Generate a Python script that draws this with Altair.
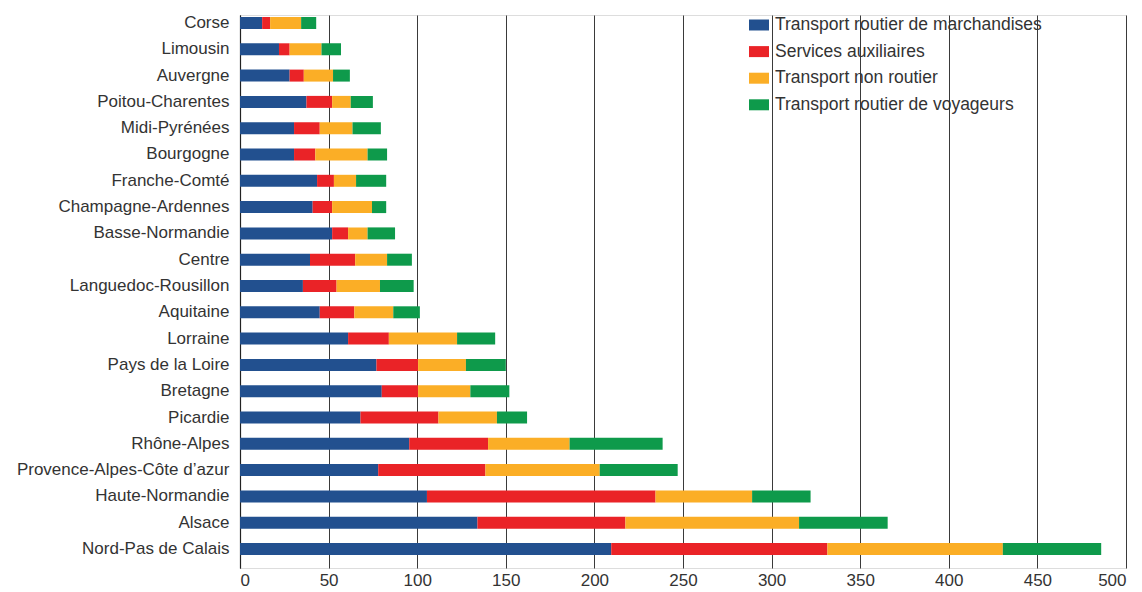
import altair as alt
import pandas as pd

regions = [
    "Corse", "Limousin", "Auvergne", "Poitou-Charentes", "Midi-Pyrénées",
    "Bourgogne", "Franche-Comté", "Champagne-Ardennes", "Basse-Normandie",
    "Centre", "Languedoc-Rousillon", "Aquitaine", "Lorraine",
    "Pays de la Loire", "Bretagne", "Picardie", "Rhône-Alpes",
    "Provence-Alpes-Côte d’azur", "Haute-Normandie", "Alsace",
    "Nord-Pas de Calais",
]

series = [
    "Transport routier de marchandises",
    "Services auxiliaires",
    "Transport non routier",
    "Transport routier de voyageurs",
]

marchandises = [12.5, 22, 28, 37.5, 30.5, 30.5, 43.5, 41, 52, 39.5, 35.5, 45,
                61, 77, 80, 68, 95.5, 78, 105.5, 134, 209.5]
auxiliaires = [4.5, 6, 8, 14.5, 14.5, 12, 9.5, 11, 9, 25.5, 19, 19.5,
               23, 23.5, 20.5, 44, 44.5, 60.5, 129, 83.5, 122]
non_routier = [17.5, 18, 16.5, 10.5, 18.5, 29.5, 12.5, 22.5, 11, 18, 24.5, 22,
               38.5, 27, 29.5, 33, 46, 64.5, 54.5, 98, 99]
voyageurs = [8.5, 11, 9.5, 12.5, 16, 11, 17, 8, 15.5, 14, 19, 15,
             21.5, 22.5, 22, 17, 52.5, 44, 33, 50, 55.5]

colors = ["#22508F", "#EA2327", "#FBAE26", "#0E9A4B"]

rows = []
for vals, name, k in zip([marchandises, auxiliaires, non_routier, voyageurs], series, range(4)):
    for r, v in zip(regions, vals):
        rows.append({"region": r, "serie": name, "valeur": v, "ordre": k})
df = pd.DataFrame(rows)

FONT = "Liberation Sans"
TXT = "#333333"

chart = alt.Chart(df).mark_bar().encode(
    y=alt.Y("region:N", sort=regions, title=None,
            scale=alt.Scale(paddingInner=0.544, paddingOuter=0.285, align=0.133),
            axis=alt.Axis(ticks=False, grid=False, domainColor="#222222", domainWidth=1.2,
                          labelFont=FONT, labelFontSize=17, labelColor=TXT,
                          labelPadding=11, labelLimit=300)),
    x=alt.X("valeur:Q", title=None, stack="zero",
            scale=alt.Scale(domain=[0, 500], nice=False),
            axis=alt.Axis(values=[0, 50, 100, 150, 200, 250, 300, 350, 400, 450, 500],
                          grid=True, gridColor="#3a3a3a", gridWidth=1, gridOpacity=1,
                          domain=False, ticks=False, labelPadding=4,
                          labelFont=FONT, labelFontSize=17, labelColor=TXT)),
    color=alt.Color("serie:N", sort=series,
                    scale=alt.Scale(domain=series, range=colors),
                    legend=alt.Legend(title=None, orient="none", legendX=509, legendY=0,
                                      symbolType="M-1,-0.55L1,-0.55L1,0.55L-1,0.55Z",
                                      symbolSize=400, symbolStrokeWidth=0,
                                      labelFont=FONT, labelFontSize=17.5, labelColor=TXT,
                                      labelOffset=6, rowPadding=7.6, labelLimit=400,
                                      padding=0)),
    order=alt.Order("ordre:Q"),
).properties(
    width=886, height=553,
    autosize=alt.AutoSizeParams(type="none"),
    padding={"left": 240, "top": 15, "right": 16, "bottom": 24},
).configure_view(stroke=None).configure(background="white")

chart.save("out.html", embed_options={"renderer": "svg", "actions": False})
